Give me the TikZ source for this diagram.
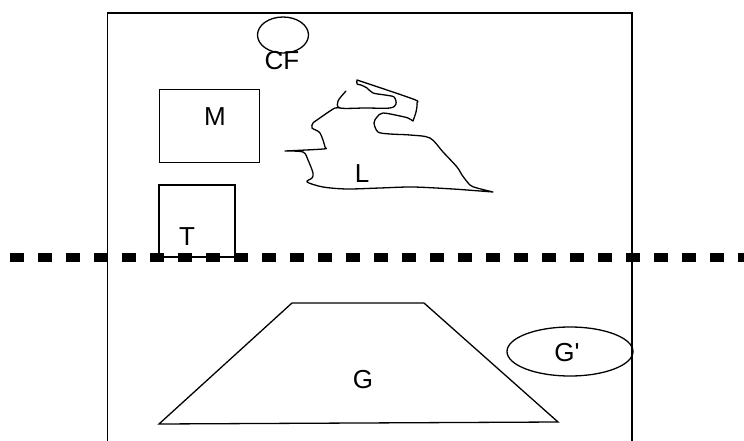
\documentclass[tikz,border=0pt]{standalone}
\usepackage{fontspec}
\setmainfont{Liberation Sans}
\usetikzlibrary{shapes.geometric}

\begin{document}
\begin{tikzpicture}[x=1pt, y=-1pt,
    thin line/.style={line width=1.3pt},
    box/.style={draw, thin line, inner sep=0pt},
    oval/.style={draw, thin line, ellipse, inner sep=0pt},
    tag/.style={inner sep=0pt, font=\fontsize{26}{30}\selectfont}]
  \useasboundingbox (0,0) rectangle (744,441);

  % frame, open at the bottom
  \coordinate (fbl) at (107.5,441);
  \coordinate (ftl) at (107.5,13);
  \coordinate (ftr) at (632,13);
  \coordinate (fbr) at (632,441);
  \draw[thin line] (fbl) -- (ftl) -- (ftr) -- (fbr);

  % upper part
  \node[oval, minimum width=51pt, minimum height=36pt] (cf) at (283,35) {};
  \node[tag] (cft) at (282,61) {CF};

  \node[box, minimum width=100pt, minimum height=73pt] (m) at (209.7,125.8) {};
  \node[tag] (mt) at (215,117) {M};

  \node[box, minimum width=76pt, minimum height=72pt] (t) at (197,221) {};
  \node[tag] (tt) at (187,237) {T};

  \draw[thin line, line join=round, line cap=round]
    plot[smooth, tension=0.5] coordinates {(346,91) (338,101) (340,108) (365,108) (390,108)
      (396,104) (394,97) (385,95) (373,93) (367,88) (361,85) (357,84) (357,80)}
    -- plot[smooth, tension=0.5] coordinates {(357,80) (413,99) (417,103) (416,112) (413,121)}
    -- plot[smooth, tension=0.5] coordinates {(413,121) (408,118) (400,116) (383,113) (377,117)
      (374,123) (378,132) (390,134) (410,135) (430,138) (443,152) (457,167) (462,175)
      (470,185) (477,188) (493,192)}
    -- plot[smooth, tension=0.5] coordinates {(493,192) (480,191) (453,189) (413,187) (380,188)
      (347,189) (323,187) (307,182) (312,178) (313,173) (308,160) (303,152) (285,151)}
    -- plot[smooth, tension=0.5] coordinates {(285,151) (323,149) (325,147) (320,133) (312,128)
      (313,123) (317,120) (327,113) (335,108) (340,108)};
  \node[tag] (lt) at (362,174) {L};

  % dividing line
  \coordinate (cutl) at (10,257.5);
  \coordinate (cutr) at (744,257.5);
  \draw[line width=8.3pt, dash pattern=on 14pt off 14pt] (cutl) -- (cutr);

  % lower part
  \coordinate (g1) at (159,424);
  \coordinate (g2) at (292,303);
  \coordinate (g3) at (424,303);
  \coordinate (g4) at (558,422);
  \draw[thin line] (g1) -- (g2) -- (g3) -- (g4) -- cycle;
  \node[tag] (gt) at (363,380) {G};

  \node[oval, minimum width=126pt, minimum height=49pt] (gp) at (570,351.5) {};
  \node[tag] (gpt) at (567,353) {G\textquotesingle};
\end{tikzpicture}
\end{document}
